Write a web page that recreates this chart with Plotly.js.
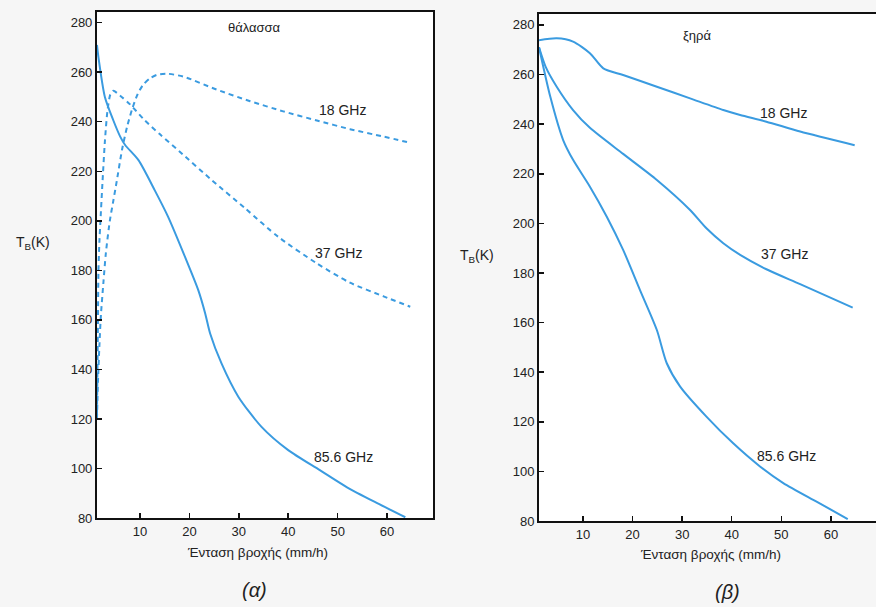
<!DOCTYPE html>
<html>
<head>
<meta charset="utf-8">
<script src="https://cdn.plot.ly/plotly-3.0.1.min.js"></script>
<style>html,body{margin:0;padding:0;background:#f6f6f6;}#chart{width:876px;height:607px;}</style>
</head>
<body>
<div id="chart"></div>
<script>
// (α) θάλασσα (ocean)
const sea18x = [1.3, 1.5, 1.8, 2.1, 2.6, 3.1, 3.9, 4.6, 5.3, 6.4, 7.4, 8.4, 9.5, 10.6, 12.0, 13.4, 15.4, 18.8, 25.5, 32.3, 39, 45.8, 52.5, 59.3, 64.7];
const sea18y = [120, 135, 150, 162, 175, 187, 200, 208, 216, 229, 238, 245, 251, 254.8, 257.5, 258.9, 259.4, 258.2, 253, 248.3, 244.2, 240.5, 237, 234, 231.5];
const sea37x = [1.3, 1.4, 1.5, 1.6, 1.8, 2.0, 2.4, 2.9, 3.4, 4.0, 4.6, 6.0, 8.0, 11, 14, 18, 24.5, 31.3, 38, 45.8, 52.5, 59.3, 64.7];
const sea37y = [122, 140, 160, 180, 192, 200, 215, 232, 244, 251, 252.5, 250.5, 247, 240.5, 235, 228, 216.5, 205, 193.5, 182.8, 175, 169.5, 165.3];
const sea85x = [1.3, 1.6, 2.9, 4.6, 6, 7, 9.7, 13, 15.7, 19.1, 21.8, 23.2, 24.2, 26.5, 29.9, 34.6, 40, 46.4, 51.9, 58, 63.7];
const sea85y = [271, 266, 250, 240.6, 234, 230.6, 224.5, 212.3, 201.6, 185.5, 172, 162.6, 154.5, 142.4, 129, 116.8, 107.4, 99.3, 92.4, 86, 80.3];

// (β) ξηρά (land)
const land18x = [1.13, 4.7, 8, 11.4, 14.1, 18.1, 24.9, 31.6, 38.3, 41.7, 47, 53.8, 64.8];
const land18y = [273.8, 274.6, 273.3, 268.6, 262.5, 259.8, 255.1, 250.4, 245.7, 243.7, 241, 237, 231.5];
const land37x = [1.13, 2.5, 4.7, 8, 11.4, 18.1, 24.9, 31.6, 34.9, 38.3, 41.7, 47, 53.8, 64.4];
const land37y = [271, 263, 255.1, 245.7, 238.5, 228, 217.5, 205.4, 198, 192, 187.3, 181.5, 175.5, 166];
const land85x = [1.13, 3.4, 6, 8, 11.4, 14.8, 18.1, 21.5, 24.9, 26.9, 29.6, 34.9, 40.3, 45.7, 50.4, 57.2, 63.4];
const land85y = [271, 251.1, 233.6, 225.6, 214.8, 202.7, 189.3, 173.1, 157, 143.6, 134.2, 122.1, 111.3, 102, 95.3, 87.7, 80.8];

const yTicks = [80, 100, 120, 140, 160, 180, 200, 220, 240, 260, 280];
const xTicks = [10, 20, 30, 40, 50, 60];
const freqLabels = ['18 GHz', '37 GHz', '85.6 GHz'];

const blue = '#3a9be0';
const dashLine = {color: blue, width: 2, dash: '5px,4px', shape: 'spline', smoothing: 0.7};
const solidLine = {color: blue, width: 2, shape: 'spline', smoothing: 0.7};

const traces = [
  {x: sea18x, y: sea18y, xaxis: 'x', yaxis: 'y', mode: 'lines', line: dashLine, name: freqLabels[0]},
  {x: sea37x, y: sea37y, xaxis: 'x', yaxis: 'y', mode: 'lines', line: dashLine, name: freqLabels[1]},
  {x: sea85x, y: sea85y, xaxis: 'x', yaxis: 'y', mode: 'lines', line: solidLine, name: freqLabels[2]},
  {x: land18x, y: land18y, xaxis: 'x2', yaxis: 'y2', mode: 'lines', line: solidLine, name: freqLabels[0]},
  {x: land37x, y: land37y, xaxis: 'x2', yaxis: 'y2', mode: 'lines', line: solidLine, name: freqLabels[1]},
  {x: land85x, y: land85y, xaxis: 'x2', yaxis: 'y2', mode: 'lines', line: solidLine, name: freqLabels[2]}
];

const tickFont = {family: 'Liberation Sans, Arial, sans-serif', size: 13, color: '#222'};
function xax(domain, range) {
  return {domain: domain, range: range, tickvals: xTicks, ticks: 'inside', ticklen: 5, tickwidth: 1.5,
    tickcolor: '#111', showline: true, linecolor: '#111', linewidth: 2, mirror: true,
    showgrid: false, zeroline: false, tickfont: tickFont, fixedrange: true};
}
function yax(domain, range, anchor) {
  return {domain: domain, range: range, tickvals: yTicks, ticks: 'inside', ticklen: 5, tickwidth: 1.5,
    tickcolor: '#111', showline: true, linecolor: '#111', linewidth: 2, mirror: true, anchor: anchor,
    showgrid: false, zeroline: false, tickfont: tickFont, fixedrange: true};
}

const txt = {family: 'Liberation Sans, Arial, sans-serif', size: 14, color: '#222'};
function lab(text, x, y, xr, yr, font) {
  return {text: text, x: x, y: y, xref: xr, yref: yr, showarrow: false, font: font || txt, xanchor: 'center', yanchor: 'middle'};
}

const annotations = [
  lab(freqLabels[0], 50.9, 244.7, 'x', 'y'),
  lab(freqLabels[1], 50.1, 186.9, 'x', 'y'),
  lab(freqLabels[2], 51.1, 104.5, 'x', 'y'),
  lab(freqLabels[0], 50.4, 244.5, 'x2', 'y2'),
  lab(freqLabels[1], 50.7, 187.7, 'x2', 'y2'),
  lab(freqLabels[2], 51.1, 106.2, 'x2', 'y2'),
  lab('θάλασσα', 0.29, 0.9555, 'paper', 'paper', {family: txt.family, size: 13, color: '#222'}),
  lab('ξηρά', 0.7957, 0.9423, 'paper', 'paper', {family: txt.family, size: 13, color: '#222'}),
  lab('Ένταση βροχής (mm/h)', 0.2934, 0.0906, 'paper', 'paper', {family: txt.family, size: 13.5, color: '#222'}),
  lab('Ένταση βροχής (mm/h)', 0.8116, 0.0857, 'paper', 'paper', {family: txt.family, size: 13.5, color: '#222'}),
  lab('T<sub>B</sub>(K)', 0.0377, 0.5997, 'paper', 'paper'),
  lab('T<sub>B</sub>(K)', 0.5445, 0.5783, 'paper', 'paper'),
  lab('<i>(α)</i>', 0.29, 0.028, 'paper', 'paper', {family: txt.family, size: 20, color: '#222'}),
  lab('<i>(β)</i>', 0.83, 0.0247, 'paper', 'paper', {family: txt.family, size: 20, color: '#222'})
];

const layout = {
  width: 876, height: 607,
  margin: {l: 0, r: 0, t: 0, b: 0},
  paper_bgcolor: '#f6f6f6', plot_bgcolor: '#ffffff',
  showlegend: false,
  xaxis: Object.assign(xax([0.1107, 0.4943], [1.3, 69.3]), {anchor: 'y'}),
  yaxis: yax([0.1466, 0.9802], [80, 284.3], 'x'),
  xaxis2: Object.assign(xax([0.6153, 1.0], [1.13, 69.1]), {anchor: 'y2'}),
  yaxis2: yax([0.1417, 0.9769], [80, 284.4], 'x2'),
  annotations: annotations
};

Plotly.newPlot('chart', traces, layout, {staticPlot: true, displayModeBar: false});
</script>
</body>
</html>
